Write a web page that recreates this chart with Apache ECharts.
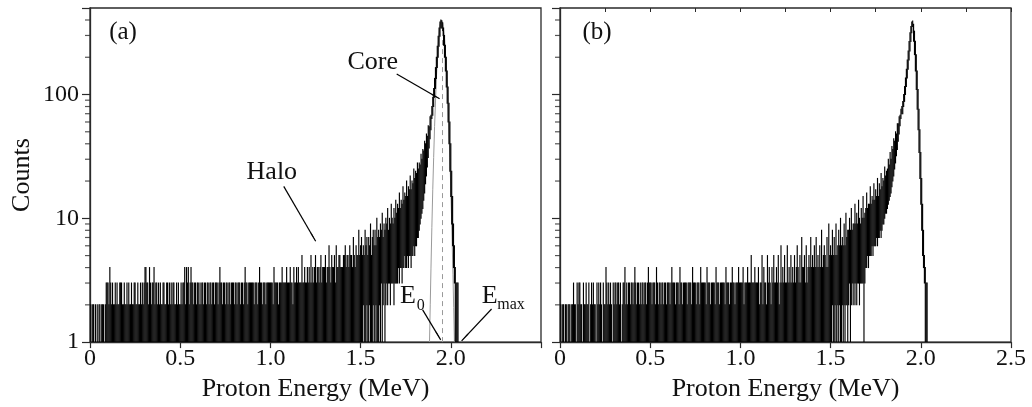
<!DOCTYPE html>
<html><head><meta charset="utf-8">
<script src="https://cdn.jsdelivr.net/npm/echarts@6/dist/echarts.min.js"></script>
<style>html,body{margin:0;padding:0;background:#fff}#c{width:1032px;height:407px}</style>
</head><body><div id="c"></div>
<script>
// ---- data ----
// Each histogram bin (width BIN_WIDTH MeV, first bin at 0) is drawn as a vertical
// stroke from its lower to its upper count (dense histogram seen per pixel column).
// hi = 0 means an empty bin; lo = 1 means the stroke reaches the floor.
const BIN_WIDTH = 0.005;
const hiA = [
0,2,0,2,2,0,2,1,2,0,2,2,0,2,2,2,0,2,3,3,
3,2,4,3,2,3,2,2,3,2,3,2,2,3,3,3,2,2,3,2,
2,3,2,3,2,2,3,2,2,3,3,2,2,3,2,2,3,2,3,2,
3,4,4,3,3,2,4,3,2,3,3,4,2,3,3,2,3,2,3,2,
2,3,3,2,2,3,3,2,3,2,3,2,3,3,2,2,3,2,3,2,
2,3,2,3,3,4,2,4,3,4,2,3,4,3,3,2,3,3,2,3,
3,2,3,2,3,3,2,3,3,2,3,3,2,3,3,2,3,3,2,3,
3,3,2,3,4,3,3,2,3,3,2,3,3,2,3,3,2,3,3,3,
2,3,3,2,3,3,3,2,3,3,2,3,4,3,3,2,3,3,3,3,
3,3,2,3,3,3,2,3,4,3,3,2,3,3,3,2,3,3,3,3,
3,3,3,2,4,3,3,3,3,2,3,3,3,4,3,3,3,3,4,3,
3,3,4,3,3,2,4,3,3,4,3,4,3,3,3,5,3,3,4,3,
3,4,3,4,3,5,3,4,3,4,5,3,4,4,3,4,5,3,4,4,
4,5,3,4,4,6,4,3,5,4,4,5,3,6,4,4,5,5,4,4,
4,5,5,6,4,5,5,4,6,5,5,4,7,5,4,6,5,5,8,5,
6,7,5,6,5,8,6,7,5,7,6,9,5,7,8,6,8,6,10,7,
8,7,9,8,11,7,9,8,10,9,12,8,10,9,13,10,9,12,10,14,
11,13,12,16,12,14,13,18,14,16,15,20,15,18,17,22,17,20,19,25,
21,24,23,28,25,28,27,33,30,36,35,42,40,48,46,56,55,66,68,80,
95,112,135,165,200,245,295,345,385,400,395,380,345,300,250,200,155,115,85,60,
40,24,15,9,6,4,3,3,3,0
];
const loA = [
1,1,1,1,1,1,1,1,1,1,1,1,1,1,1,1,1,1,1,1,
1,1,1,1,1,1,1,1,1,1,1,1,1,1,1,1,1,1,1,1,
1,1,1,1,1,1,1,1,1,1,1,1,1,1,1,1,1,1,1,1,
1,1,1,1,1,1,1,1,1,1,1,1,1,1,1,1,1,1,1,1,
1,1,1,1,1,1,1,1,1,1,1,1,1,1,1,1,1,1,1,1,
1,1,1,1,1,1,1,1,1,1,1,1,1,1,1,1,1,1,1,1,
1,1,1,1,1,1,1,1,1,1,1,1,1,1,1,1,1,1,1,1,
1,1,1,1,1,1,1,1,1,1,1,1,1,1,1,1,1,1,1,1,
1,1,1,1,1,1,1,1,1,1,1,1,1,1,1,1,1,1,1,1,
1,1,1,1,1,1,1,1,1,1,1,1,1,1,1,1,1,1,1,1,
1,1,1,1,1,1,1,1,1,1,1,1,1,1,1,1,1,1,1,1,
1,1,1,1,1,1,1,1,1,1,1,1,1,1,1,1,1,1,1,1,
1,1,1,1,1,1,1,1,1,1,1,1,1,1,1,1,1,1,1,1,
1,1,1,1,1,1,1,1,1,1,1,1,1,1,1,1,1,1,1,1,
1,1,1,1,1,1,1,1,1,1,1,1,1,1,1,1,1,1,1,1,
1,1,1,2,1,1,1,2,1,1,2,1,1,1,2,1,1,2,1,1,
1,2,1,3,1,2,3,1,2,3,2,3,3,2,3,3,3,2,3,3,
3,3,4,3,4,4,3,4,4,5,4,4,5,4,5,5,4,5,5,6,
5,6,6,7,7,8,9,10,11,12,14,16,19,22,26,31,37,44,52,64,
68,80,95,112,135,165,200,245,295,345,345,300,250,200,155,115,85,60,40,24,
15,9,6,4,3,1,1,1,1,1
];
const hiB = [
0,2,0,2,2,0,2,2,0,2,2,2,0,2,2,3,2,2,0,3,
2,3,3,2,2,0,3,2,2,3,2,2,3,0,2,3,2,3,2,2,
0,3,2,3,2,3,2,0,3,2,2,4,3,2,3,2,3,2,0,3,
2,3,3,2,3,3,2,3,0,2,3,3,4,2,3,2,3,3,2,3,
3,2,3,4,3,2,3,3,2,3,2,3,3,2,3,3,2,3,4,3,
3,3,2,3,3,3,2,4,3,2,3,3,2,3,3,2,3,3,2,3,
3,3,2,3,4,3,3,3,2,3,3,3,2,4,3,3,2,3,3,3,
3,2,3,3,3,3,2,4,3,3,3,2,3,3,3,2,4,3,3,3,
3,3,2,4,3,3,3,2,3,3,3,3,2,4,3,3,3,2,3,3,
3,3,3,2,4,3,3,3,2,3,3,4,3,3,2,3,3,3,4,3,
3,3,3,4,2,3,3,3,4,3,3,3,5,3,3,3,4,3,3,3,
4,2,3,3,5,2,4,3,3,2,5,3,4,3,2,4,3,5,3,3,
4,3,5,2,3,6,3,4,3,5,3,3,6,3,4,3,5,3,4,3,
5,3,4,6,4,3,5,3,7,4,4,5,3,6,3,4,5,4,7,4,
5,4,6,4,7,4,5,4,6,4,8,4,5,6,5,4,7,4,9,5,
6,5,8,5,7,5,9,5,6,8,6,10,6,7,6,9,6,11,7,8,
8,10,8,12,8,9,9,13,9,11,9,14,10,9,12,10,15,10,11,12,
16,12,13,13,18,13,15,14,19,14,17,15,21,15,19,17,23,18,21,20,
26,22,24,25,30,27,34,30,38,36,44,42,50,48,58,58,66,68,76,80,
88,100,116,136,160,190,225,268,315,355,385,392,370,325,270,210,155,110,76,52,
34,21,13,8,5,4,3,3,0,0
];
const loB = [
1,1,1,1,1,1,1,1,1,1,1,1,1,1,1,1,1,1,1,1,
1,1,1,1,1,1,1,1,1,1,1,1,1,1,1,1,1,1,1,1,
1,1,1,1,1,1,1,1,1,1,1,1,1,1,1,1,1,1,1,1,
1,1,1,1,1,1,1,1,1,1,1,1,1,1,1,1,1,1,1,1,
1,1,1,1,1,1,1,1,1,1,1,1,1,1,1,1,1,1,1,1,
1,1,1,1,1,1,1,1,1,1,1,1,1,1,1,1,1,1,1,1,
1,1,1,1,1,1,1,1,1,1,1,1,1,1,1,1,1,1,1,1,
1,1,1,1,1,1,1,1,1,1,1,1,1,1,1,1,1,1,1,1,
1,1,1,1,1,1,1,1,1,1,1,1,1,1,1,1,1,1,1,1,
1,1,1,1,1,1,1,1,1,1,1,1,1,1,1,1,1,1,1,1,
1,1,1,1,1,1,1,1,1,1,1,1,1,1,1,1,1,1,1,1,
1,1,1,1,1,1,1,1,1,1,1,1,1,1,1,1,1,1,1,1,
1,1,1,1,1,1,1,1,1,1,1,1,1,1,1,1,1,1,1,1,
1,1,1,1,1,1,1,1,1,1,1,1,1,1,1,1,1,1,1,1,
1,1,1,1,1,1,1,1,1,1,1,1,1,1,1,1,1,1,1,1,
1,1,2,1,1,2,1,1,2,1,2,1,1,2,1,2,1,2,2,1,
2,3,1,2,3,2,3,2,3,2,3,3,2,3,3,3,3,1,3,4,
4,5,4,5,5,5,6,5,6,6,6,7,6,7,7,8,7,8,9,9,
10,11,11,12,13,14,15,16,18,20,22,25,28,32,36,42,48,56,64,70,
70,80,88,100,116,136,160,190,225,268,315,355,270,210,155,110,76,52,34,21,
13,8,5,4,3,1,1,1,1,1
];
// grey core fit curve in panel (a): [energy MeV, counts]
const fitA = [[1.882,1],[1.886,2.0],[1.89,3.9],[1.895,8.4],[1.90,17],[1.905,31],[1.91,55],[1.92,135],[1.93,255],[1.94,365],[1.948,400],[1.955,376],[1.965,285],[1.975,171],[1.985,82],[1.995,31],[2.005,9.3],[2.012,3.5],[2.016,1.9],[2.02,1]];
const E0 = 1.95;          // dashed line position
const E0_TOP = 330;       // dashed line upper end (counts)
const yTickValues = [1, 10, 100];
const minorTickValues = [2,3,4,5,6,7,8,9,20,30,40,50,60,70,80,90,200,300,400];
const xTickLabelsA = ['0','0.5','1.0','1.5','2.0',''];
const xTickLabelsB = ['0','0.5','1.0','1.5','2.0','2.5'];
// annotation anchors in data coordinates [MeV, counts]
const annotationsA = [
  {text:'(a)', at:[0.183, 319], size:25},
  {text:'Core', at:[1.567, 183], size:26},
  {text:'Halo', at:[1.008, 23.4], size:26},
  {text:'E', at:[1.763, 2.36], size:26},
  {text:'0', at:[1.833, 1.97], size:16},
  {text:'E', at:[2.215, 2.36], size:26},
  {text:'max', at:[2.334, 2.01], size:16}
];
const annotationsB = [{text:'(b)', at:[0.205, 319], size:25}];
const arrowsA = [
  [[1.700, 146.7], [1.938, 92.3]],
  [[1.074, 18.1], [1.251, 6.53]],
  [[1.844, 1.82], [1.944, 1.043]],
  [[2.226, 1.85], [2.060, 1.024]]
];

// ---- chart ----
const FONT = '"Liberation Serif","Times New Roman",serif';
const AX = '#2a2a2a';
const TXT = '#111';
const toBins = (hi, lo) => hi.map((h, i) => [+(i * BIN_WIDTH).toFixed(4), lo[i] > 0 ? lo[i] : 1, h]);

function xAxisCfg(gi, labels) {
  return {
    type: 'value', gridIndex: gi, min: 0, max: 2.5, interval: 0.5,
    axisLine: {show: true, lineStyle: {color: AX, width: 1.3}},
    axisTick: {show: true, length: 6, lineStyle: {color: AX, width: 1.2}},
    axisLabel: {margin: 5, fontSize: 24, fontFamily: FONT, color: TXT,
      formatter: v => labels[Math.round(v / 0.5)]},
    splitLine: {show: false},
    name: 'Proton Energy (MeV)', nameLocation: 'middle', nameGap: 28,
    nameTextStyle: {fontSize: 26, fontFamily: FONT, color: TXT}
  };
}
function yAxisCfg(gi, withLabels) {
  return {
    type: 'log', logBase: 10, gridIndex: gi, min: 1, max: 500,
    axisLine: {show: true, lineStyle: {color: AX, width: 1.3}},
    axisTick: {show: true, length: 8, lineStyle: {color: AX, width: 1.2}},
    axisLabel: {show: withLabels, margin: 11, fontSize: 24, fontFamily: FONT, color: TXT,
      formatter: v => {
        const t = yTickValues.find(t => Math.abs(t - v) < 1e-6 * t);
        return t === undefined ? '' : String(t);
      }},
    splitLine: {show: false}, minorTick: {show: false},
    name: withLabels ? 'Counts' : '', nameLocation: 'middle', nameGap: 55,
    nameTextStyle: {fontSize: 26, fontFamily: FONT, color: TXT}
  };
}
function textMarks(list) {
  return list.map(a => ({
    coord: a.at, symbol: 'circle', symbolSize: 1, itemStyle: {color: 'rgba(0,0,0,0)'},
    label: {show: true, position: 'inside', formatter: a.text, fontSize: a.size, fontFamily: FONT, color: TXT}
  }));
}
function minorTickSeries(xi, yi) {
  return {
    type: 'scatter', xAxisIndex: xi, yAxisIndex: yi, silent: true, clip: false,
    data: minorTickValues.map(v => [0, v]),
    symbol: 'rect', symbolSize: [5, 1.2], symbolOffset: [-2.5, 0],
    itemStyle: {color: AX}, z: 5
  };
}
function histSeries(xi, yi, data) {
  return {
    type: 'custom', xAxisIndex: xi, yAxisIndex: yi, data: data, silent: true, clip: true, z: 3,
    encode: {x: 0, y: [1, 2]},
    renderItem: (params, api) => {
      const x = api.value(0), lo = api.value(1), hi = api.value(2);
      if (!(hi > 1)) return null;
      const p1 = api.coord([x, lo]);
      const p2 = api.coord([x, hi]);
      return {type: 'line', shape: {x1: p1[0], y1: p1[1] + 0.5, x2: p2[0], y2: p2[1] - 0.5},
              style: {stroke: '#000', lineWidth: 1.15}};
    }
  };
}

const chart = echarts.init(document.getElementById('c'), null, {renderer: 'canvas'});
chart.setOption({
  animation: false,
  backgroundColor: '#fff',
  grid: [
    {left: 90, top: 8, width: 451, height: 336, show: true, borderColor: AX, borderWidth: 1.3, backgroundColor: 'rgba(0,0,0,0)'},
    {left: 560, top: 8, width: 451, height: 336, show: true, borderColor: AX, borderWidth: 1.3, backgroundColor: 'rgba(0,0,0,0)'}
  ],
  xAxis: [
    xAxisCfg(0, xTickLabelsA),
    xAxisCfg(1, xTickLabelsB),
    {type: 'value', gridIndex: 1, position: 'top', min: 0, max: 2.5, interval: 0.25,
     axisLine: {show: false}, axisTick: {show: true, inside: true, length: 4, lineStyle: {color: AX}},
     axisLabel: {show: false}, splitLine: {show: false}}
  ],
  yAxis: [yAxisCfg(0, true), yAxisCfg(1, false)],
  series: [
    {
      type: 'line', xAxisIndex: 0, yAxisIndex: 0, data: fitA, showSymbol: false, silent: true,
      lineStyle: {color: '#9a9a9a', width: 1}, z: 1,
      markLine: {
        silent: true, symbol: ['none', 'none'], label: {show: false},
        lineStyle: {color: '#9a9a9a', width: 1, type: [5, 4]},
        data: [[{coord: [E0, 1]}, {coord: [E0, E0_TOP]}]]
      }
    },
    histSeries(0, 0, toBins(hiA, loA)),
    histSeries(1, 1, toBins(hiB, loB)),
    {
      type: 'scatter', xAxisIndex: 0, yAxisIndex: 0, data: [], silent: true, z: 6,
      markLine: {
        silent: true, symbol: ['none', 'arrow'], symbolSize: [1, 10], label: {show: false},
        lineStyle: {color: '#000', width: 1.2, type: 'solid'},
        data: arrowsA.map(a => [{coord: a[0]}, {coord: a[1]}])
      },
      markPoint: {silent: true, data: textMarks(annotationsA)}
    },
    {
      type: 'scatter', xAxisIndex: 1, yAxisIndex: 1, data: [], silent: true, z: 6,
      markPoint: {silent: true, data: textMarks(annotationsB)}
    },
    minorTickSeries(0, 0),
    minorTickSeries(1, 1)
  ]
});
</script></body></html>
